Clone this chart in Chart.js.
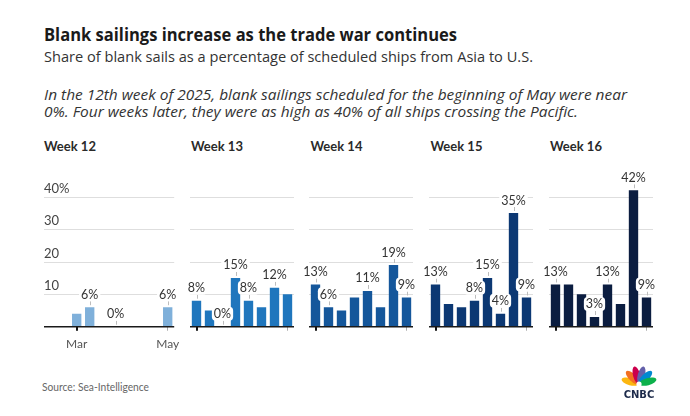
<!DOCTYPE html>
<html><head><meta charset="utf-8">
<script src="https://cdn.jsdelivr.net/npm/chart.js@4.4.1/dist/chart.umd.min.js"></script>
<style>
html,body{margin:0;padding:0;background:#fff;}
body{width:690px;height:416px;overflow:hidden;position:relative;font-family:'Open Sans',Lato,sans-serif;}
.t{position:absolute;white-space:nowrap;line-height:1;transform-origin:0 50%;}
canvas{position:absolute;}
</style></head><body>
<div class="t fit" data-w="413" style="left:44px;top:26px;font-size:17px;font-weight:700;color:#1a1a1a">Blank sailings increase as the trade war continues</div>
<div class="t fit" data-w="489" style="left:44px;top:50px;font-size:14.5px;color:#333">Share of blank sails as a percentage of scheduled ships from Asia to U.S.</div>
<div class="t fit" data-w="583" style="left:44px;top:88px;font-size:14px;font-style:italic;color:#333">In the 12th week of 2025, blank sailings scheduled for the beginning of May were near</div>
<div class="t fit" data-w="534" style="left:44px;top:105px;font-size:14px;font-style:italic;color:#333">0%. Four weeks later, they were as high as 40% of all ships crossing the Pacific.</div>
<div class="t fit" data-w="107" style="left:42px;top:381px;font-size:11.2px;color:#666;font-family:Lato,'Open Sans',sans-serif">Source: Sea-Intelligence</div>
<div id="heads"></div>
<div id="charts"></div>
<svg style="position:absolute;left:616px;top:358px" width="46" height="44" viewBox="0 0 46 44">
  <g transform="translate(23,26)">
    <ellipse cx="0" cy="-9" rx="3.6" ry="9" fill="#FCB711" transform="rotate(-75)"/>
    <ellipse cx="0" cy="-9" rx="3.6" ry="9" fill="#F37021" transform="rotate(-45)"/>
    <ellipse cx="0" cy="-9" rx="3.6" ry="9" fill="#CC004C" transform="rotate(-15)"/>
    <ellipse cx="0" cy="-9" rx="3.6" ry="9" fill="#6460AA" transform="rotate(15)"/>
    <ellipse cx="0" cy="-9" rx="3.6" ry="9" fill="#0089D0" transform="rotate(45)"/>
    <ellipse cx="0" cy="-9" rx="3.6" ry="9" fill="#0DB14B" transform="rotate(75)"/>
    <circle cx="0" cy="0" r="2.6" fill="#fff"/>
  </g>
  <text x="23" y="40" text-anchor="middle" font-family="'DejaVu Sans',sans-serif" font-weight="700" font-size="10" fill="#1c2a4a">CNBC</text>
</svg>
<script>
const categories = ['Mar', '', '', '', '', '', '', 'May'];
const weeks = ['Week 12', 'Week 13', 'Week 14', 'Week 15', 'Week 16'];
const week12 = [4, 6, null, 0, null, null, null, 6];
const week13 = [8, 5, 0, 15, 8, 6, 12, 10];
const week14 = [13, 6, 5, 9, 11, 6, 19, 9];
const week15 = [13, 7, 6, 8, 15, 4, 35, 9];
const week16 = [13, 13, 10, 3, 13, 7, 42, 9];
const labeled12 = [1, 3, 7];
const labeled13 = [0, 2, 3, 4, 6];
const labeled14 = [0, 1, 4, 6, 7];
const labeled15 = [0, 3, 4, 5, 6, 7];
const labeled16 = [0, 3, 4, 6, 7];
const yTicks = [10, 20, 30, 40];
const yTickLabels = ['10', '20', '30', '40%'];

const seriesList = [week12, week13, week14, week15, week16];
const labeledList = [labeled12, labeled13, labeled14, labeled15, labeled16];
const colors = ['#7fb0da', '#1f76bd', '#15579b', '#0c3873', '#0b1d40'];
const areaLeft = [70.2, 189.5, 308.8, 428.8, 548.5];
const headLeft = [44, 191, 310.5, 430.5, 550];
const FONT = "Lato, 'Open Sans', sans-serif";

const heads = document.getElementById('heads');
weeks.forEach((w, k) => {
  const d = document.createElement('div');
  d.className = 't';
  d.style.cssText = `left:${headLeft[k]}px;top:140px;font-size:13px;font-weight:700;color:#2a2a2a;font-family:Lato,'Open Sans',sans-serif`;
  d.textContent = w;
  heads.appendChild(d);
});

function fitTexts() {
  document.querySelectorAll('.fit').forEach(el => {
    el.style.transform = 'none';
    const w = el.getBoundingClientRect().width;
    const target = parseFloat(el.dataset.w);
    if (w > 0) el.style.transform = `scaleX(${target / w})`;
  });
}
fitTexts();
if (document.fonts && document.fonts.ready) document.fonts.ready.then(fitTexts);

const TOP = 150, H = 220;
seriesList.forEach((data, k) => {
  const first = k === 0;
  const cw = first ? 164 : 144;
  const left = first ? 30 : areaLeft[k] - 20;
  const padL = areaLeft[k] - left;
  const padR = cw - padL - 104;
  const cv = document.createElement('canvas');
  cv.width = cw; cv.height = H;
  cv.style.left = left + 'px'; cv.style.top = TOP + 'px';
  cv.style.width = cw + 'px'; cv.style.height = H + 'px';
  document.getElementById('charts').appendChild(cv);
  const gridLeftEdge = first ? (44 - left) : null;
  const labeled = labeledList[k];

  const plugin = {
    id: 'deco' + k,
    beforeDatasetsDraw(chart) {
      const ctx = chart.ctx, ca = chart.chartArea, ys = chart.scales.y;
      const lx = gridLeftEdge !== null ? gridLeftEdge : ca.left;
      ctx.save();
      ctx.strokeStyle = '#dedede'; ctx.lineWidth = 1;
      yTicks.forEach((v, i) => {
        const y = Math.round(ys.getPixelForValue(v)) + 0.5;
        ctx.beginPath(); ctx.moveTo(lx, y); ctx.lineTo(ca.right, y); ctx.stroke();
        if (first) {
          ctx.fillStyle = '#444'; ctx.font = '13px ' + FONT;
          ctx.textAlign = 'left'; ctx.textBaseline = 'middle';
          ctx.fillText(yTickLabels[i], lx, y - 9);
        }
      });
      ctx.restore();
    },
    afterDatasetsDraw(chart) {
      const ctx = chart.ctx, ca = chart.chartArea, ys = chart.scales.y;
      const lx = gridLeftEdge !== null ? gridLeftEdge : ca.left;
      ctx.save();
      const by = ys.getPixelForValue(0);
      ctx.strokeStyle = '#1a1a1a'; ctx.lineWidth = 1.6;
      ctx.beginPath(); ctx.moveTo(lx, by); ctx.lineTo(ca.right, by); ctx.stroke();
      const meta = chart.getDatasetMeta(0);
      ctx.font = '12.5px ' + FONT;
      ctx.textAlign = 'center'; ctx.textBaseline = 'middle';
      labeled.forEach(i => {
        const el = meta.data[i];
        const v = data[i];
        const x = el.x, yt = ys.getPixelForValue(v);
        ctx.strokeStyle = '#bdbdbd'; ctx.lineWidth = 1;
        ctx.beginPath(); ctx.moveTo(Math.round(x) + 0.5, yt - 2); ctx.lineTo(Math.round(x) + 0.5, yt - 6); ctx.stroke();
        const txt = v + '%';
        const w = ctx.measureText(txt).width + 4, h = 14;
        const cy = yt - 13;
        ctx.fillStyle = '#fff';
        ctx.beginPath();
        if (ctx.roundRect) ctx.roundRect(x - w / 2, cy - h / 2, w, h, 4); else ctx.rect(x - w / 2, cy - h / 2, w, h);
        ctx.fill();
        ctx.fillStyle = '#333';
        ctx.fillText(txt, x, cy + 0.5);
      });
      ctx.restore();
    }
  };

  new Chart(cv, {
    type: 'bar',
    data: {
      labels: categories,
      datasets: [{ data: data, backgroundColor: colors[k], borderWidth: 0, categoryPercentage: 1, barPercentage: 0.72 }]
    },
    options: {
      responsive: false, animation: false, devicePixelRatio: 1,
      layout: { padding: { top: 30.5, bottom: 13.3, left: padL, right: padR } },
      plugins: { legend: { display: false }, tooltip: { enabled: false } },
      scales: {
        y: { display: false, min: 0, max: 45 },
        x: {
          afterFit: s => { s.height = 30; },
          border: { display: false },
          grid: {
            offset: false, drawOnChartArea: false, tickLength: 4,
            color: c => c.index === 0 ? '#111' : (c.index === categories.length - 1 ? '#aaa' : 'rgba(0,0,0,0)'),
            lineWidth: c => c.index === 0 ? 2 : 1
          },
          ticks: {
            display: first, autoSkip: false, maxRotation: 0, padding: 6,
            color: '#555', font: { size: 12, family: FONT }
          }
        }
      }
    },
    plugins: [plugin]
  });
});
</script>
</body></html>
